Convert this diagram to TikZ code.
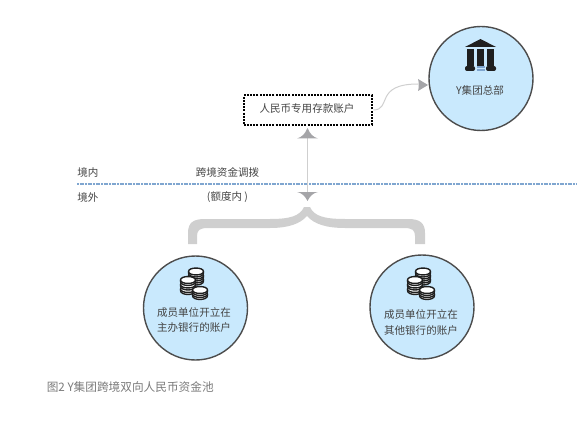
\documentclass[tikz,border=0pt]{standalone}
\usepackage{fontspec}
\setmainfont{Noto Sans CJK SC}[Scale=1]
\definecolor{fillblue}{HTML}{C9E9FD}
\definecolor{ink}{HTML}{444444}
\definecolor{bracegrey}{HTML}{CFCFCF}
\definecolor{headgrey}{HTML}{A5A5A8}
\definecolor{dotblue}{HTML}{7FA6D0}
\tikzset{
  x=0.75pt,y=-0.75pt,
  lbl/.style={font=\fontsize{7.9pt}{11.6pt}\selectfont,text=ink,inner sep=0pt,align=center},
  bubble/.style={circle,draw=black!70,line width=1.05pt,fill=fillblue,minimum size=78pt,inner sep=0pt},
  conn/.style={draw=bracegrey,line width=0.75pt},
  coinb/.pic={
    \draw[fill=white,draw=black!88,line width=1.05pt] (-7.5,0) -- (-7.5,1.5) .. controls (-7.5,6.8) and (7.5,6.8) .. (7.5,1.5) -- (7.5,0) .. controls (7.5,-4.6) and (-7.5,-4.6) .. (-7.5,0) -- cycle;
    \draw[draw=black!88,line width=1.05pt] (-7.5,0) .. controls (-7.5,4.6) and (7.5,4.6) .. (7.5,0);
  },
  coins/.pic={
    \path (1,2.5) pic{coinb};
    \path (1,-1.5) pic{coinb};
    \path (1,-5.5) pic{coinb};
    \path (-7,12) pic{coinb};
    \path (-7,7.5) pic{coinb};
    \path (-7,3) pic{coinb};
    \path (5,17) pic{coinb};
    \path (5,13) pic{coinb};
  }
}
\begin{document}
\begin{tikzpicture}
\useasboundingbox (0,0) rectangle (578,431);
% nodes
\node[bubble] (hq) at (481,78.5) {};
\node[bubble] (left) at (195.5,308) {};
\node[bubble] (right) at (422,307) {};
\node[draw=black,line width=1.5pt,dash pattern=on 1.4pt off 1pt,fill=white,minimum width=96.5pt,minimum height=22pt,inner sep=0pt] (acct) at (308,110) {};
\node[lbl] (acctt) at (307,109) {人民币专用存款账户};
\node[lbl] (hqt) at (480,90) {Y集团总部};
\node[lbl] (lt) at (194,320) {成员单位开立在\\主办银行的账户};
\node[lbl] (rt) at (421,322.5) {成员单位开立在\\其他银行的账户};
\node[lbl,anchor=west] (in) at (77,172) {境内};
\node[lbl,anchor=west] (out) at (77,197) {境外};
\node[lbl] (t1) at (227.5,172) {跨境资金调拨};
\node[lbl] (t2) at (227.5,197) {(额度内 )};
\node[lbl,anchor=west,text=black!52,font=\fontsize{8.75pt}{10pt}\selectfont] (cap) at (46.5,387) {图2 Y集团跨境双向人民币资金池};
% dotted border line
\coordinate (dl) at (77,184);
\coordinate (dr) at (576,184);
\draw[dotblue,line width=1.1pt,dash pattern=on 1.4pt off 0.6pt] (dl) -- (dr);
% vertical connector
\coordinate (upt) at (307.5,128);
\coordinate (dnt) at (307.5,201);
\draw[conn] (307.5,136) -- (307.5,194);
\fill[headgrey] (upt) .. controls (305,134) and (302,137) .. (297,138.5) -- (318,138.5) .. controls (313,137) and (310,134) .. (upt) -- cycle;
\fill[headgrey] (dnt) .. controls (305,196) and (302,193) .. (297,192) -- (318,192) .. controls (313,193) and (310,196) .. (dnt) -- cycle;
% curved connector
\coordinate (hqin) at (427,85);
\draw[conn] (acct.east) .. controls (392,110) and (374,84) .. (418,84);
\fill[headgrey] (428,85) -- (418,79) .. controls (419,82) and (419,88) .. (418,91) -- cycle;
% brace
\fill[bracegrey] (188,244) -- (188,233) .. controls (188,222) and (194,219) .. (205,219) -- (270,219)
  .. controls (290,219) and (300,216) .. (304,207) -- (310,207)
  .. controls (314,216) and (324,219) .. (345,219) -- (408,219)
  .. controls (420,219) and (425,223) .. (425,233) -- (425,244) -- (415,244) -- (415,236)
  .. controls (415,230) and (412,228) .. (404,228) -- (345,228)
  .. controls (326,228) and (314,224) .. (307,216)
  .. controls (300,224) and (288,228) .. (270,228) -- (208,228)
  .. controls (200,228) and (197,230) .. (197,236) -- (197,244) -- cycle;
% bank icon
\begin{scope}[shift={(480.5,0)}]
\fill[black!88] (-15.5,47) -- (0,39) -- (15.5,47) -- cycle;
\fill[black!88] (-13.5,49) rectangle (-6.5,66);
\fill[black!88] (-3.5,49) rectangle (3.5,66);
\fill[black!88] (6.5,49) rectangle (13.5,66);
\fill[black!88,rounded corners=1.5pt] (-15.5,66) rectangle (-5.5,71);
\fill[black!88,rounded corners=1.5pt] (5.5,66) rectangle (15.5,71);
\fill[dotblue] (-4,66.5) rectangle (4,67.8);
\fill[dotblue] (-4,69.3) rectangle (4,70.6);
\end{scope}
\path (195,277) pic{coins};
\path (422,277) pic{coins};
\end{tikzpicture}
\end{document}
